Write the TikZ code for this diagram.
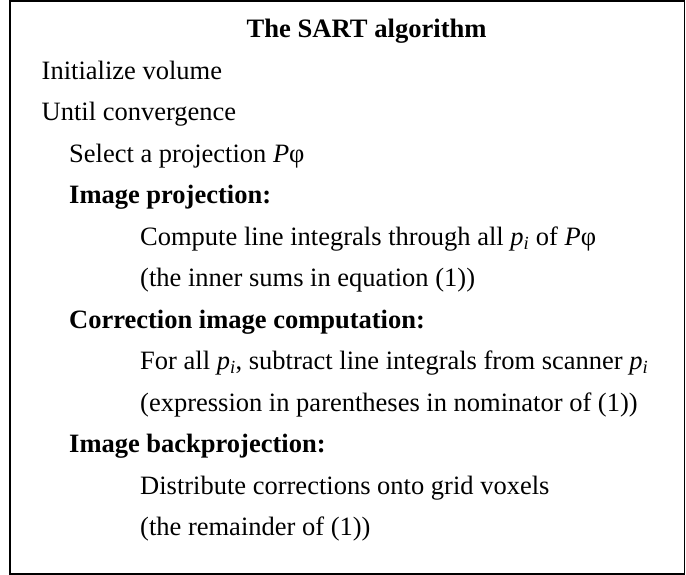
\documentclass[tikz,border=0pt]{standalone}
\usepackage{fontspec}
\setmainfont{Liberation Serif}
\newcommand{\subi}{\textsubscript{\itshape i}}
\newcommand{\Pphi}{\textit{P}φ}
\begin{document}
\begin{tikzpicture}[x=1bp,y=-1bp,
  line/.style={anchor=base west, inner sep=0pt, font=\fontsize{26.5bp}{30bp}\selectfont},
  head/.style={line, font=\fontsize{26.5bp}{30bp}\selectfont\bfseries},
  title/.style={anchor=base west, inner sep=0pt, font=\fontsize{26.6bp}{30bp}\selectfont\bfseries}]
  \useasboundingbox (0,0) rectangle (686,575);
  \draw[line width=1.6bp] (10,1) rectangle (684.5,574);
  % title and algorithm steps, one node per line
  \node[title] (t)  at (246.5,37.5) {The SART algorithm};
  \node[line] (l1)  at (41.5,79.3)  {Initialize volume};
  \node[line] (l2)  at (41.5,120.8) {Until convergence};
  \node[line] (l3)  at (69,162.3)   {Select a projection \Pphi};
  \node[head] (h1)  at (69,203.8)   {Image projection:};
  \node[line] (l4)  at (140,245.3)  {Compute line integrals through all \textit{p}\subi{} of \Pphi};
  \node[line] (l5)  at (140,286.8)  {(the inner sums in equation (1))};
  \node[head] (h2)  at (69,328.3)   {Correction image computation:};
  \node[line] (l6)  at (140,369.8)  {For all \textit{p}\subi, subtract line integrals from scanner \textit{p}\subi};
  \node[line] (l7)  at (140,411.3)  {(expression in parentheses in nominator of (1))};
  \node[head] (h3)  at (69,452.8)   {Image backprojection:};
  \node[line] (l8)  at (140,494.3)  {Distribute corrections onto grid voxels};
  \node[line] (l9)  at (140,535.8)  {(the remainder of (1))};
\end{tikzpicture}
\end{document}
